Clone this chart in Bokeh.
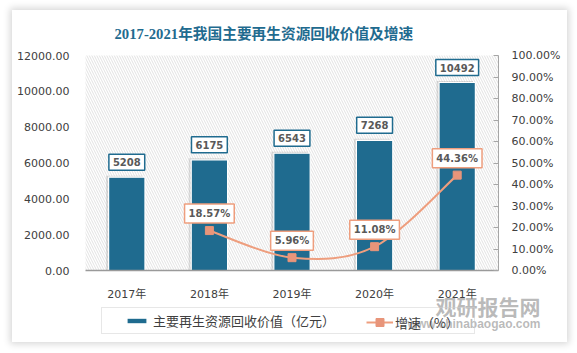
import numpy as np
from bokeh.plotting import figure
from bokeh.models import (Range1d, LinearAxis, FixedTicker, PrintfTickFormatter,
                          Legend, LegendItem, Label, BoxAnnotation)
from bokeh.core.properties import value
from bokeh.embed import file_html
from bokeh.resources import INLINE

# ---------------- data ----------------
years = ["2017年", "2018年", "2019年", "2020年", "2021年"]
values = [5208, 6175, 6543, 7268, 10492]
growth_years = ["2018年", "2019年", "2020年", "2021年"]
growth = [18.57, 5.96, 11.08, 44.36]
left_ticks = [0, 2000, 4000, 6000, 8000, 10000, 12000]
right_ticks = [0, 10, 20, 30, 40, 50, 60, 70, 80, 90, 100]
title_text = "2017-2021年我国主要再生资源回收价值及增速"
bar_name = "主要再生资源回收价值（亿元）"
line_name = "增速（%）"
wm_cn = "观研报告网"
wm_url = "www.chinabaogao.com"

# ---------------- styles / layout ----------------
BAR = "#1f6b8f"
LINE = "#ee9e7e"
MARK = "#e8957a"
TXT = "#404040"
LBL = "#595959"
NUMFONT = "'DejaVu Sans', 'Noto Sans CJK SC'"
CJK = "'Noto Sans CJK SC'"

FIG_W, FIG_H = 555, 332           # the white card
PL, PR, PT, PB = 73, 486, 45, 260  # plot area inside the card (px)

xs = list(range(len(years)))
gx = [years.index(y) for y in growth_years]

x0, x1 = -0.5, len(years) - 0.5
kx = (x1 - x0) / (PR - PL)
y0, y1 = left_ticks[0], left_ticks[-1]
ky = (y1 - y0) / (PB - PT)
r0, r1 = right_ticks[0], right_ticks[-1]
kr = (r1 - r0) / (PB - PT)

p = figure(width=FIG_W, height=FIG_H,
           x_range=Range1d(x0 - PL * kx, x1 + (FIG_W - PR) * kx),
           y_range=Range1d(y0 - (FIG_H - PB) * ky, y1 + PT * ky),
           output_backend="svg", toolbar_location=None,
           min_border_left=0, min_border_right=0,
           min_border_top=0, min_border_bottom=0)
p.margin = (10, 10, 11, 12)
p.styles = {"box-shadow": "0 0 7px 2px rgba(0,0,0,0.16)"}
p.outline_line_color = None
p.grid.visible = False
p.background_fill_color = "white"
p.border_fill_color = "white"
p.extra_y_ranges = {"pct": Range1d(r0 - (FIG_H - PB) * kr, r1 + PT * kr)}

# hatched plot background
p.add_layout(BoxAnnotation(left=x0, right=x1, bottom=y0, top=y1,
                           fill_color="white", fill_alpha=1, line_color=None,
                           hatch_pattern="left_diagonal_line", hatch_color="#d6d6d6",
                           hatch_scale=5, hatch_weight=0.7, level="underlay"))

# bar shadow + bars
p.vbar(x=[x - 2.5 * kx for x in xs], top=[v + 1.5 * ky for v in values], width=0.44,
       fill_color="#7f7f7f", fill_alpha=0.25, line_color=None)
bars = p.vbar(x=xs, top=values, width=0.44, fill_color=BAR, line_color="white",
              line_width=1.2)

# bar labels
p.text(x=xs, y=values, text=[str(v) for v in values], y_offset=-15,
       text_align="center", text_baseline="middle", text_font=value(NUMFONT),
       text_font_size="10px", text_font_style="bold", text_color=LBL,
       background_fill_color="white", border_line_color=BAR, border_line_width=1.5,
       padding=4)

# smoothed growth line (bezier segments through the data points)
P = np.array(list(zip(gx, growth)), dtype=float)
n = len(P)
seg = {"x0": [], "y0": [], "x1": [], "y1": [], "cx0": [], "cy0": [], "cx1": [], "cy1": []}
for i in range(n - 1):
    pm = P[i - 1] if i > 0 else P[i]
    pp = P[i + 2] if i + 2 < n else P[i + 1]
    c1 = P[i] + (P[i + 1] - pm) / 6.0
    c2 = P[i + 1] - (pp - P[i]) / 6.0
    seg["x0"].append(P[i][0]); seg["y0"].append(P[i][1])
    seg["x1"].append(P[i + 1][0]); seg["y1"].append(P[i + 1][1])
    seg["cx0"].append(c1[0]); seg["cy0"].append(c1[1])
    seg["cx1"].append(c2[0]); seg["cy1"].append(c2[1])
curve = p.bezier(line_color=LINE, line_width=2, y_range_name="pct", **seg)

marks = p.scatter(x=gx, y=growth, marker="square", size=8, fill_color=MARK,
                  line_color=MARK, y_range_name="pct")

p.text(x=gx, y=growth, text=[f"{g:.2f}%" for g in growth], y_offset=-17,
       y_range_name="pct",
       text_align="center", text_baseline="middle", text_font=value(NUMFONT),
       text_font_size="10px", text_font_style="bold", text_color=LBL,
       background_fill_color="white", border_line_color=LINE, border_line_width=1.5,
       padding=4)

# axes (fixed at the plot-area edges)
ya = p.yaxis[0]
ya.fixed_location = x0
ya.bounds = (y0, y1)
ya.ticker = FixedTicker(ticks=left_ticks)
ya.formatter = PrintfTickFormatter(format="%.2f")
ya.axis_line_color = None
ya.major_tick_line_color = None
ya.minor_tick_line_color = None
ya.major_label_standoff = 10
ya.major_label_text_font = NUMFONT
ya.major_label_text_font_size = "11px"
ya.major_label_text_color = TXT

xa = p.xaxis[0]
xa.fixed_location = y0
xa.bounds = (x0, x1)
xa.ticker = FixedTicker(ticks=xs)
xa.major_label_overrides = {i: y for i, y in zip(xs, years)}
xa.axis_line_color = "#9a9a9a"
xa.axis_line_width = 1.5
xa.major_tick_line_color = None
xa.minor_tick_line_color = None
xa.major_label_standoff = 11
xa.major_label_text_font = NUMFONT
xa.major_label_text_font_size = "11px"
xa.major_label_text_color = TXT

ra = LinearAxis(y_range_name="pct", ticker=FixedTicker(ticks=right_ticks),
                formatter=PrintfTickFormatter(format="%.2f%%"))
ra.fixed_location = x1
ra.bounds = (r0, r1)
ra.axis_line_color = "#a6a6a6"
ra.major_tick_line_color = "#a6a6a6"
ra.major_tick_in = 5
ra.major_tick_out = 0
ra.minor_tick_line_color = None
ra.major_label_standoff = 13
ra.major_label_text_font = NUMFONT
ra.major_label_text_font_size = "11px"
ra.major_label_text_color = TXT
p.add_layout(ra, "right")

# title
p.add_layout(Label(x=102, y=FIG_H - 23, x_units="screen", y_units="screen",
                   text=title_text, text_align="left", text_baseline="middle",
                   text_font="'Liberation Serif', 'Noto Sans CJK SC'",
                   text_font_size="14.7px", text_font_style="bold", text_color="#1f6b8f"))

# legend: box with bar item, plus line item placed inside the same box
legA = Legend(items=[LegendItem(label=bar_name, renderers=[bars])],
              location=(89, 8), orientation="horizontal",
              title=" ", title_location="left", title_standoff=4,
              title_text_font_size="13px",
              glyph_width=25, glyph_height=7, label_height=13, label_width=318,
              label_standoff=4, padding=3,
              border_line_color="#d0d0d0", border_line_width=1,
              background_fill_alpha=0,
              label_text_font=CJK, label_text_font_size="13px",
              label_text_color=TXT)
legB = Legend(items=[LegendItem(label=line_name, renderers=[curve, marks])],
              location=(354, 10), orientation="horizontal",
              glyph_width=27, glyph_height=20, label_height=20,
              label_standoff=2, padding=0, border_line_color=None,
              background_fill_alpha=0,
              label_text_font=CJK, label_text_font_size="13px",
              label_text_color=TXT)
p.add_layout(legA)
p.add_layout(legB)

# watermark
p.add_layout(Label(x=528, y=37, x_units="screen", y_units="screen", text=wm_cn,
                   text_align="right", text_baseline="middle", text_font=CJK,
                   text_font_size="21px", text_font_style="bold", text_color="#8c8c8c",
                   text_alpha=0.6, level="overlay"))
p.add_layout(Label(x=528, y=19, x_units="screen", y_units="screen", text=wm_url,
                   text_align="right", text_baseline="middle",
                   text_font="'Liberation Sans'",
                   text_font_size="12px", text_font_style="bold", text_color="#8c8c8c",
                   text_alpha=0.6, level="overlay"))

open("out.html", "w").write(file_html(p, INLINE))
